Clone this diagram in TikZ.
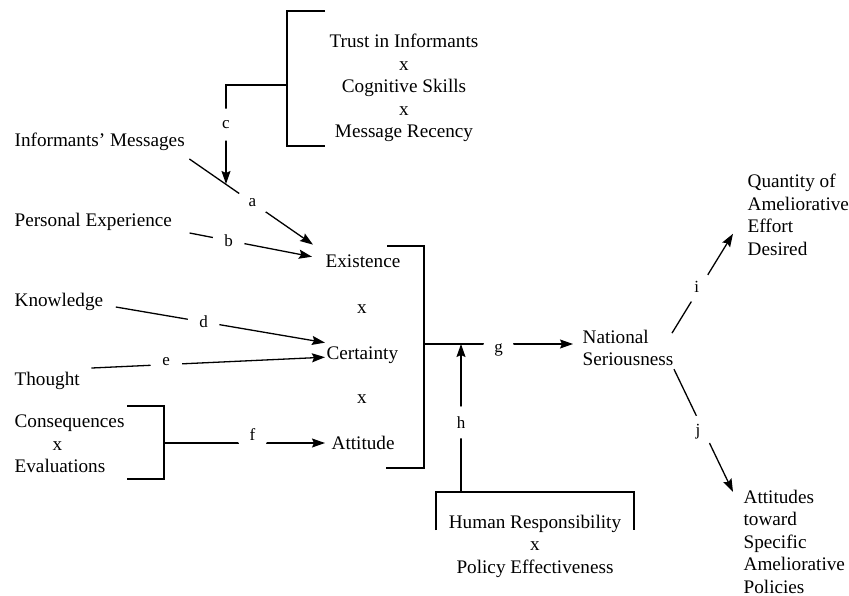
\documentclass[tikz,border=0pt]{standalone}
\usepackage{fontspec}
\setmainfont{Liberation Serif}
\usetikzlibrary{arrows.meta,calc}

\begin{document}
\begin{tikzpicture}[x={(1pt,0)},y={(0,-1pt)},line width=1.3pt,
    arr/.style={-{Stealth[length=13pt,width=9pt,inset=2pt]}},
    lbl/.style={circle,fill=white,inner sep=0pt,minimum size=32pt,font=\fontsize{17}{20}\selectfont}]
    \useasboundingbox (0,0) rectangle (849,596);
    \begin{scope}[every node/.style={inner sep=0pt,font=\fontsize{19.2}{22.5}\selectfont}]
    \node[anchor=north,align=center] (trust) at (404,33.5) {Trust in Informants\\x\\Cognitive Skills\\x\\Message Recency};
    \node[anchor=base west] (msg) at (14,147) {Informants’ Messages};
    \node[anchor=base west] (pers) at (14,227) {Personal Experience};
    \node[anchor=base west] (know) at (14,306) {Knowledge};
    \node[anchor=base west] (thought) at (14,385) {Thought};
    \node[anchor=north west,align=left] (cons) at (14,414.5) {Consequences\\\hspace*{38pt}x\\Evaluations};
    \node[anchor=base west] (exist) at (325,268) {Existence};
    \node[anchor=base] (x1) at (362,313) {x};
    \node[anchor=base west] (cert) at (326,359) {Certainty};
    \node[anchor=base] (x2) at (362,403) {x};
    \node[anchor=base west] (att) at (331,449) {Attitude};
    \node[anchor=north west,align=left] (nat) at (582,329.5) {National\\Seriousness};
    \node[anchor=north,align=center] (human) at (535,514.5) {Human Responsibility\\x\\Policy Effectiveness};
    \node[anchor=north west,align=left] (quant) at (747,173.5) {Quantity of\\Ameliorative\\Effort\\Desired};
    \node[anchor=north west,align=left] (pol) at (743,489.5) {Attitudes\\toward\\Specific\\Ameliorative\\Policies};
    \end{scope}
    % brackets
    \draw (325,11) -- (287,11) -- (287,146) -- (325,146);
    \draw (387,246) -- (424,246) -- (424,468) -- (386,468);
    \draw (127,406) -- (164,406) -- (164,479) -- (127,479);
    \draw (436,530) -- (436,492) -- (634,492) -- (634,530);
    \coordinate (trustMid) at (287,85);
    \coordinate (bigMid) at (424,344);
    \coordinate (consMid) at (164,443);
    \coordinate (humanTop) at (461,492);
    \coordinate (cHit) at (226,184);
    \begin{scope}[every node/.style={lbl}]
    \draw[arr] ([shift={(4,12)}]msg.base east) -- node[pos=0.51]{a} ([shift={(-12,-10)}]exist.north west);
    \draw[arr] ([shift={(17,6)}]pers.base east) -- node[pos=0.32]{b} ([shift={(-13,-5)}]exist.west);
    \draw[arr] (trustMid) -| node[pos=0.7]{c} (cHit);
    \draw[arr] ([shift={(12,1)}]know.base east) -- node[pos=0.42]{d} ([shift={(-1,-3)}]cert.north west);
    \draw[arr] ([shift={(11,-3)}]thought.north east) -- node[pos=0.32,yshift=3]{e} ([shift={(-1,2.5)}]cert.west);
    \draw[arr] (consMid) -- node[pos=0.55,yshift=8]{f} ($(consMid -| att.west)+(-6,0)$);
    \draw[arr] (bigMid) -- node[pos=0.5,yshift=-6]{g} ($(bigMid -| nat.west)+(-9,0)$);
    \draw[arr] (humanTop) -- node[pos=0.47]{h} (humanTop |- bigMid);
    \draw[arr] ([shift={(-2,-15)}]nat.east) -- node[pos=0.47,xshift=-4]{i} ([shift={(-14,19)}]quant.west);
    \draw[arr] ([shift={(0,21)}]nat.east) -- node[pos=0.51,xshift=-6]{j} ([shift={(-10,2.5)}]pol.north west);
    \end{scope}
\end{tikzpicture}
\end{document}
